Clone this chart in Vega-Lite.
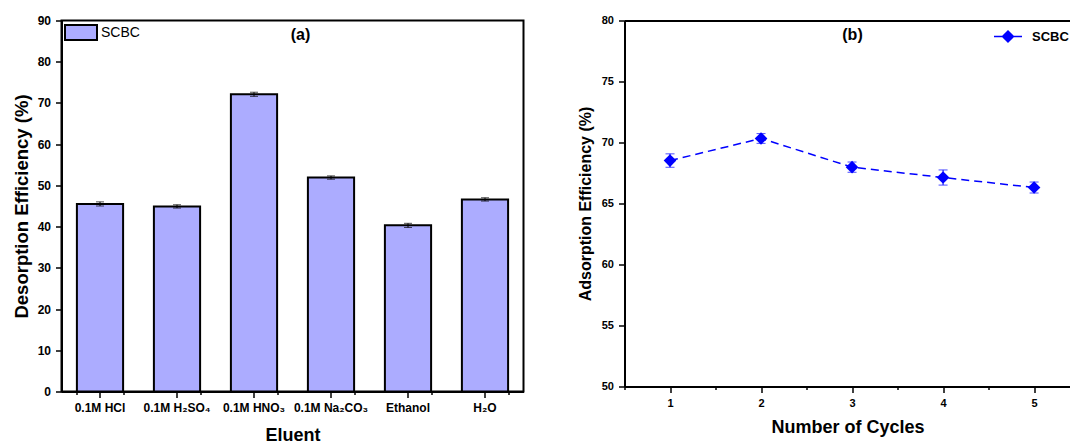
{
  "$schema": "https://vega.github.io/schema/vega-lite/v6.json",
  "padding": {"left": 10.5, "top": 13.5, "right": 0, "bottom": 0},
  "spacing": 52,
  "background": "white",
  "config": {
    "font": "Liberation Sans",
    "view": {"stroke": "black", "strokeWidth": 2},
    "axis": {
      "domainColor": "black", "domainWidth": 2, "tickColor": "black", "tickWidth": 1.5,
      "labelColor": "black", "labelFontWeight": "bold", "labelFont": "Liberation Sans",
      "titleFont": "Liberation Sans", "titleFontWeight": "bold", "titleColor": "black", "grid": false
    },
    "legend": {"padding": 0, "labelFont": "Liberation Sans", "labelColor": "black"}
  },
  "hconcat": [
    {
      "width": 462,
      "height": 371,
      "title": {"text": "(a)", "frame": "group", "anchor": "middle", "dx": 8, "offset": -28, "fontSize": 16, "fontWeight": "bold", "font": "Liberation Sans", "color": "black"},
      "data": {"values": [
        {"eluent": "0.1M HCl", "eff": 45.5, "err": 0.5, "series": "SCBC"},
        {"eluent": "0.1M H₂SO₄", "eff": 44.9, "err": 0.4, "series": "SCBC"},
        {"eluent": "0.1M HNO₃", "eff": 72.1, "err": 0.5, "series": "SCBC"},
        {"eluent": "0.1M Na₂CO₃", "eff": 51.9, "err": 0.4, "series": "SCBC"},
        {"eluent": "Ethanol", "eff": 40.3, "err": 0.5, "series": "SCBC"},
        {"eluent": "H₂O", "eff": 46.6, "err": 0.4, "series": "SCBC"}
      ]},
      "layer": [
        {
          "mark": {"type": "bar", "stroke": "black", "strokeWidth": 2},
          "encoding": {
            "x": {"field": "eluent", "type": "nominal", "sort": null,
              "scale": {"paddingInner": 0.4, "paddingOuter": 0.2},
              "axis": {"orient": "bottom", "title": "Eluent", "labelAngle": 0, "labelFontSize": 12, "tickSize": 6, "labelPadding": 5, "titleFontSize": 18, "titlePadding": 13, "domain": true}},
            "y": {"field": "eff", "type": "quantitative", "title": "Desorption Efficiency (%)",
              "scale": {"domain": [0, 90], "nice": false},
              "axis": {"values": [0,5,10,15,20,25,30,35,40,45,50,55,60,65,70,75,80,85,90],
                "labelExpr": "datum.value % 10 === 0 ? datum.label : ''",
                "tickSize": {"condition": {"test": "datum.value % 10 === 0", "value": 6}, "value": 3},
                "labelFontSize": 12, "labelPadding": 5, "titleFontSize": 18.5, "titlePadding": 6}},
            "fill": {"field": "series", "type": "nominal", "scale": {"range": ["#acacff"]},
              "legend": {"orient": "none", "legendX": 2.5, "legendY": -5, "title": null,
                "symbolType": "M-1,-0.47H1V0.47H-1Z", "symbolSize": 1024, "symbolStrokeColor": "black", "symbolStrokeWidth": 2,
                "labelFontSize": 14, "labelFontWeight": "normal", "labelOffset": 3}}
          }
        },
        {
          "mark": {"type": "errorbar", "color": "black", "ticks": {"size": 8, "color": "black"}},
          "encoding": {
            "x": {"field": "eluent", "type": "nominal", "sort": null,
              "axis": {"orient": "bottom", "tickBand": "extent", "labels": false, "domain": false, "title": null, "tickSize": 3}},
            "y": {"field": "eff", "type": "quantitative", "title": "Desorption Efficiency (%)"},
            "yError": {"field": "err"}
          }
        }
      ],
      "resolve": {"axis": {"x": "independent"}}
    },
    {
      "width": 446,
      "height": 366,
      "view": {"stroke": null},
      "title": {"text": "(b)", "frame": "group", "anchor": "middle", "dx": 5, "offset": -28, "fontSize": 16, "fontWeight": "bold", "font": "Liberation Sans", "color": "black"},
      "data": {"values": [
        {"cycle": 1, "eff": 68.52, "err": 0.55, "series": "SCBC"},
        {"cycle": 2, "eff": 70.33, "err": 0.4, "series": "SCBC"},
        {"cycle": 3, "eff": 67.98, "err": 0.42, "series": "SCBC"},
        {"cycle": 4, "eff": 67.13, "err": 0.62, "series": "SCBC"},
        {"cycle": 5, "eff": 66.31, "err": 0.45, "series": "SCBC"}
      ]},
      "layer": [
        {
          "mark": {"type": "errorbar", "color": "blue", "ticks": {"size": 9, "color": "blue"}},
          "encoding": {
            "x": {"field": "cycle", "type": "quantitative", "axis": null},
            "y": {"field": "eff", "type": "quantitative", "title": "Adsorption Efficiency (%)"},
            "yError": {"field": "err"}
          }
        },
        {
          "mark": {"type": "line", "color": "blue", "strokeDash": [8, 5], "strokeWidth": 1.5},
          "encoding": {
            "x": {"field": "cycle", "type": "quantitative",
              "axis": {"orient": "top", "labels": false, "ticks": false, "title": null, "domain": true}},
            "y": {"field": "eff", "type": "quantitative", "title": "Adsorption Efficiency (%)"}
          }
        },
        {
          "mark": {"type": "point", "shape": "diamond", "filled": true, "size": 160, "opacity": 1},
          "encoding": {
            "x": {"field": "cycle", "type": "quantitative", "title": "Number of Cycles",
              "scale": {"domain": [0.5, 5.4], "nice": false, "zero": false},
              "axis": {"orient": "bottom", "values": [0.5,1,1.5,2,2.5,3,3.5,4,4.5,5],
                "labelExpr": "datum.value % 1 === 0 ? format(datum.value, 'd') : ''",
                "tickSize": {"condition": {"test": "datum.value % 1 === 0", "value": 6}, "value": 3},
                "labelFontSize": 11, "labelPadding": 5, "titleFontSize": 18, "titlePadding": 10}},
            "y": {"field": "eff", "type": "quantitative", "title": "Adsorption Efficiency (%)",
              "scale": {"domain": [50, 80], "nice": false, "zero": false},
              "axis": {"values": [50,52.5,55,57.5,60,62.5,65,67.5,70,72.5,75,77.5,80],
                "labelExpr": "datum.value % 5 === 0 ? datum.label : ''",
                "tickSize": {"condition": {"test": "datum.value % 5 === 0", "value": 6}, "value": 3},
                "labelFontSize": 11, "labelPadding": 5, "titleFontSize": 16, "titlePadding": 8}},
            "color": {"field": "series", "type": "nominal", "scale": {"range": ["blue"]},
              "legend": {"orient": "none", "legendX": 931.5, "legendY": 1, "title": null,
                "symbolType": "M-1,0H1M0,-0.39L0.39,0L0,0.39L-0.39,0Z", "symbolSize": 784,
                "symbolStrokeColor": "blue", "symbolStrokeWidth": 1.5, "symbolFillColor": "blue",
                "labelFontSize": 13, "labelFontWeight": "bold", "labelOffset": 9}}
          }
        }
      ],
      "resolve": {"axis": {"x": "independent"}}
    }
  ]
}
